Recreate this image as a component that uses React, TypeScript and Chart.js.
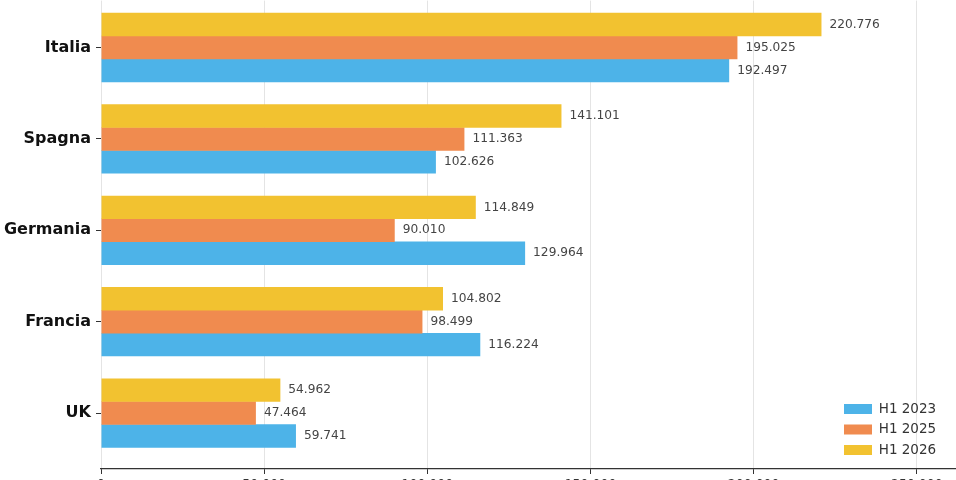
import { useEffect, useRef } from 'react';
import { Chart, registerables } from 'chart.js';

Chart.register(...registerables);

// Countries on the index axis, top to bottom
const categories = ['Italia', 'Spagna', 'Germania', 'Francia', 'UK'];

// Half-year totals per country
const h1_2023 = [192497, 102626, 129964, 116224, 59741];
const h1_2025 = [195025, 111363, 90010, 98499, 47464];
const h1_2026 = [220776, 141101, 114849, 104802, 54962];

const seriesLabels = ['H1 2026', 'H1 2025', 'H1 2023'];
const seriesValues = [h1_2026, h1_2025, h1_2023];
const seriesColors = ['#F2C230', '#F08B4F', '#4DB3E8'];

const xTicks = [0, 50000, 100000, 150000, 200000, 250000];

const FONT = '"DejaVu Sans", "Noto Sans", sans-serif';

// Italian thousands separator: 220776 -> "220.776"
const fmt = (v: number) => String(Math.round(v)).replace(/\B(?=(\d{3})+(?!\d))/g, '.');

// Writes each bar's value just past its end
const valueLabels = {
  id: 'valueLabels',
  afterDatasetsDraw(chart: any) {
    const { ctx } = chart;
    ctx.save();
    ctx.font = `12.2px ${FONT}`;
    ctx.fillStyle = '#444444';
    ctx.textAlign = 'left';
    ctx.textBaseline = 'middle';
    chart.data.datasets.forEach((ds: any, di: number) => {
      const meta = chart.getDatasetMeta(di);
      meta.data.forEach((bar: any, i: number) => {
        ctx.fillText(fmt(ds.data[i].x), bar.x + 8, bar.y);
      });
    });
    ctx.restore();
  },
};

// Moves the in-plot legend to the lower right corner of the chart area
const legendPlacement = {
  id: 'legendPlacement',
  afterLayout(chart: any) {
    const lg = chart.legend;
    const ca = chart.chartArea;
    if (!lg) return;
    lg.left = ca.right - 119;
    lg.right = lg.left + lg.width;
    lg.bottom = ca.bottom - 5.25;
    lg.top = lg.bottom - lg.height;
  },
};

export default function App() {
  const canvasRef = useRef<HTMLCanvasElement>(null);

  useEffect(() => {
    const canvas = canvasRef.current;
    if (!canvas) return;
    const chart = new Chart(canvas, {
      type: 'bar',
      data: {
        datasets: seriesLabels.map((label, s) => ({
          label,
          data: seriesValues[s].map((v, i) => ({ x: v, y: i })),
          backgroundColor: seriesColors[s],
          borderColor: seriesColors[s],
          borderWidth: 0,
          categoryPercentage: 0.754,
          barPercentage: 1.02,
        })),
      },
      options: {
        indexAxis: 'y',
        responsive: false,
        animation: false,
        devicePixelRatio: 1,
        layout: { padding: 0 },
        scales: {
          x: {
            type: 'linear',
            min: 0,
            max: 262000,
            afterBuildTicks: (scale: any) => {
              scale.ticks = xTicks.map((value) => ({ value }));
            },
            afterFit: (scale: any) => {
              scale.height = 31;
            },
            ticks: {
              callback: (v: any) => fmt(Number(v)),
              font: { family: FONT, size: 12.5 },
              color: '#333333',
              padding: 3,
              maxRotation: 0,
              autoSkip: false,
            },
            grid: {
              color: '#e4e4e4',
              lineWidth: 1,
              tickColor: '#333333',
              tickLength: 5,
              drawTicks: true,
            },
            border: { color: '#333333', width: 1.2 },
          },
          y: {
            type: 'linear',
            reverse: true,
            offset: false,
            min: -0.5137,
            max: 4.612,
            afterBuildTicks: (scale: any) => {
              scale.ticks = categories.map((_, i) => ({ value: i }));
            },
            afterFit: (scale: any) => {
              scale.width = 101;
            },
            ticks: {
              callback: (v: any) => categories[Number(v)] ?? '',
              font: { family: FONT, size: 16, weight: 'bold' },
              color: '#111111',
              padding: 5,
              autoSkip: false,
            },
            grid: {
              offset: false,
              drawOnChartArea: false,
              drawTicks: true,
              tickLength: 5,
              tickColor: '#333333',
            },
            border: { display: false },
          },
        },
        plugins: {
          legend: {
            position: 'chartArea',
            align: 'end',
            reverse: true,
            labels: {
              boxWidth: 28,
              boxHeight: 10,
              padding: 7,
              color: '#333333',
              font: { family: FONT, size: 13.5 },
            },
          },
          tooltip: { enabled: false },
        },
      } as any,
      plugins: [legendPlacement, valueLabels],
    });
    return () => chart.destroy();
  }, []);

  return (
    <div
      style={{
        position: 'fixed',
        left: 0,
        top: 0,
        width: 956,
        height: 480,
        overflow: 'hidden',
        background: '#ffffff',
      }}
    >
      <canvas
        ref={canvasRef}
        width={956}
        height={514}
        style={{ position: 'absolute', left: 0, top: -14, display: 'block' }}
      />
    </div>
  );
}
